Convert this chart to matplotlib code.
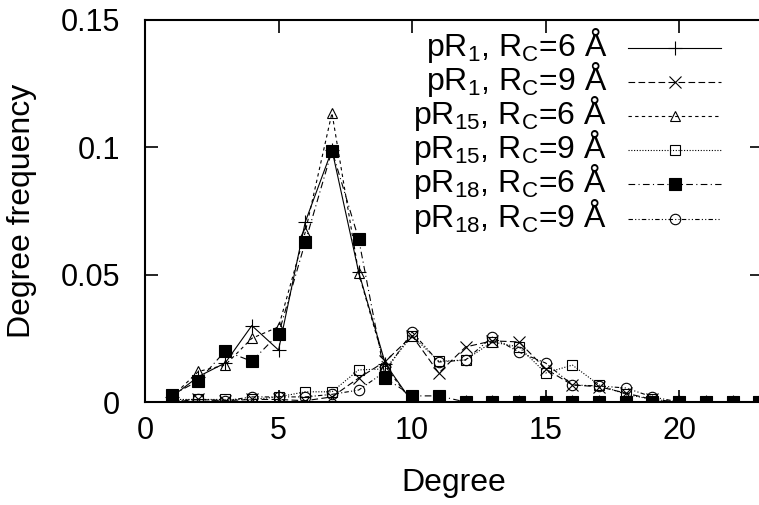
import numpy as np
import matplotlib
matplotlib.use("Agg")
import matplotlib.pyplot as plt
from matplotlib.lines import Line2D

plt.rcParams['font.family'] = ['Liberation Sans', 'DejaVu Sans']
plt.rcParams['mathtext.default'] = 'regular'

# degree 1..23
degree = np.arange(1, 24)

pr1_6 = [0.002, 0.010, 0.0153, 0.030, 0.0204, 0.0707, 0.099, 0.051, 0.015, 0.0, 0.0,
         0, 0, 0, 0, 0, 0, 0, 0, 0, 0, 0, 0]
pr1_9 = [0.0, 0.001, 0.0005, 0.001, 0.001, 0.0005, 0.002, 0.0094, 0.016, 0.026, 0.0114,
         0.0216, 0.024, 0.0236, 0.013, 0.0067, 0.006, 0.0035, 0.001, 0, 0, 0, 0]
pr15_6 = [0.002, 0.012, 0.0145, 0.025, 0.0295, 0.0667, 0.1135, 0.0506, 0.014, 0.0, 0.0,
          0, 0, 0, 0, 0, 0, 0, 0, 0, 0, 0, 0]
pr15_9 = [0.001, 0.001, 0.001, 0.001, 0.002, 0.004, 0.004, 0.0126, 0.013, 0.026, 0.016,
          0.0165, 0.0236, 0.0216, 0.0114, 0.0145, 0.0067, 0.003, 0.001, 0, 0, 0, 0]
pr18_6 = [0.0027, 0.0083, 0.020, 0.016, 0.0267, 0.0628, 0.0987, 0.064, 0.0094, 0.0024, 0.0024,
          0, 0, 0, 0, 0, 0, 0, 0, 0, 0, 0, 0]
pr18_9 = [0.0005, 0.001, 0.0005, 0.002, 0.002, 0.002, 0.003, 0.0047, 0.012, 0.0275, 0.0157,
          0.0165, 0.0255, 0.0196, 0.0153, 0.0067, 0.0063, 0.0055, 0.002, 0, 0, 0, 0]

labels = [r'pR$_1$, R$_C$=6 Å', r'pR$_1$, R$_C$=9 Å',
          r'pR$_{15}$, R$_C$=6 Å', r'pR$_{15}$, R$_C$=9 Å',
          r'pR$_{18}$, R$_C$=6 Å', r'pR$_{18}$, R$_C$=9 Å']

series = [pr1_6, pr1_9, pr15_6, pr15_9, pr18_6, pr18_9]
styles = [
    dict(ls='-', marker='+', ms=10, mfc='none'),
    dict(ls=(0, (6, 3)), marker='x', ms=8, mfc='none'),
    dict(ls=(0, (3, 3)), marker='^', ms=7, mfc='none'),
    dict(ls=(0, (1, 1.5)), marker='s', ms=7.5, mfc='none'),
    dict(ls=(0, (6, 3, 1, 3)), marker='s', ms=8.5, mfc='black'),
    dict(ls=(0, (4, 2, 1, 2, 1, 2)), marker='o', ms=7.5, mfc='none'),
]

W, H = 759, 505
FS = 22
fig = plt.figure(figsize=(W / 100, H / 100), dpi=100)
ax = fig.add_axes([145 / W, 103 / H, 617 / W, 382 / H])

for ys, st in zip(series, styles):
    ax.plot(degree, ys, color='black', lw=0.8, mew=0.8, mec='black', **st)

ax.set_xlim(0, 23.1)
ax.set_ylim(0, 0.15)
ax.set_xticks([0, 5, 10, 15, 20])
ax.set_xticklabels(['0', '5', '10', '15', '20'])
ax.set_yticks([0, 0.05, 0.1, 0.15])
ax.set_yticklabels(['0', '0.05', '0.1', '0.15'])
ax.tick_params(direction='in', length=9, width=1.2, top=True, right=True, labelsize=FS)
ax.tick_params(axis='y', pad=18)
ax.tick_params(axis='x', pad=10)
for sp in ax.spines.values():
    sp.set_linewidth(1.5)

ax.set_xlabel('Degree', fontsize=FS + 1)
ax.set_ylabel('Degree frequency', fontsize=FS + 1)
ax.xaxis.set_label_coords(0.5, (H - 468 - 103) / 382)
ax.yaxis.set_label_coords((37 - 145) / 617, 0.5)

# key, drawn like gnuplot: right-aligned text, then a sample line with its point
row_y = [48, 82, 116, 150, 184, 219]
for lab, st, y in zip(labels, styles, row_y):
    yf = 1 - y / H
    fig.text(607 / W, 1 - (y + 8) / H, lab, ha='right', va='baseline', fontsize=FS + 1)
    fig.add_artist(Line2D([628 / W, 674.5 / W, 721 / W], [yf, yf, yf],
                          transform=fig.transFigure, color='black', lw=0.8, mew=0.8,
                          mec='black', markevery=[1], **st))

fig.savefig('out.png', dpi=100)
